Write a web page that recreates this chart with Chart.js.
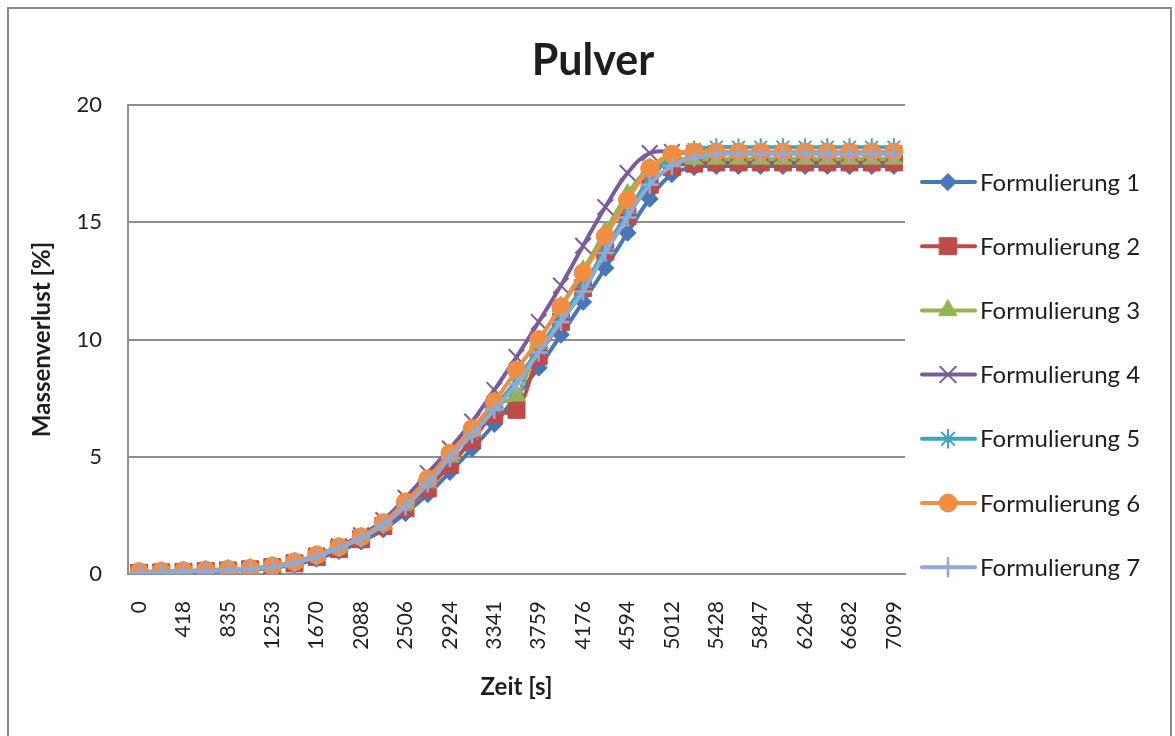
<!DOCTYPE html>
<html>
<head>
<meta charset="utf-8">
<script src="https://cdn.jsdelivr.net/npm/chart.js@4.4.1/dist/chart.umd.min.js"></script>
<style>
  html, body { margin: 0; padding: 0; background: #ffffff; }
  canvas { display: block; }
</style>
</head>
<body>
<canvas id="pulverChart" width="1175" height="736"></canvas>
<script>
// Messzeitpunkte (Sekunden)
const zeitSekunden = [0, 209, 418, 626, 835, 1044, 1253, 1462, 1670, 1879, 2088, 2297, 2506, 2715, 2924, 3133, 3341, 3550, 3759, 3968, 4176, 4385, 4594, 4803, 5012, 5220, 5428, 5637, 5847, 6055, 6264, 6473, 6682, 6890, 7099];

// Massenverlust [%] je Formulierung
const formulierung1 = [0.03, 0.05, 0.07, 0.10, 0.13, 0.18, 0.26, 0.40, 0.65, 0.98, 1.38, 1.90, 2.60, 3.40, 4.35, 5.35, 6.40, 7.60, 8.80, 10.20, 11.60, 13.05, 14.55, 16.00, 17.05, 17.35, 17.40, 17.40, 17.40, 17.40, 17.40, 17.40, 17.40, 17.40, 17.40];
const formulierung2 = [0.05, 0.07, 0.09, 0.12, 0.15, 0.20, 0.29, 0.45, 0.72, 1.06, 1.48, 2.05, 2.80, 3.65, 4.65, 5.70, 6.80, 7.00, 9.30, 10.75, 12.20, 13.75, 15.25, 16.60, 17.35, 17.50, 17.55, 17.55, 17.55, 17.55, 17.55, 17.55, 17.55, 17.55, 17.55];
const formulierung3 = [0.07, 0.09, 0.11, 0.14, 0.18, 0.22, 0.32, 0.49, 0.78, 1.12, 1.55, 2.14, 2.98, 3.90, 5.00, 6.10, 7.20, 7.60, 9.90, 11.40, 12.95, 14.60, 16.20, 17.30, 17.65, 17.70, 17.70, 17.70, 17.70, 17.70, 17.70, 17.70, 17.70, 17.70, 17.70];
const formulierung4 = [0.05, 0.08, 0.10, 0.13, 0.17, 0.22, 0.32, 0.50, 0.80, 1.18, 1.65, 2.30, 3.25, 4.30, 5.35, 6.50, 7.85, 9.25, 10.75, 12.30, 14.00, 15.65, 17.10, 17.95, 18.00, 17.95, 17.95, 17.95, 17.95, 17.95, 17.95, 17.95, 17.95, 17.95, 17.95];
const formulierung5 = [0.06, 0.08, 0.10, 0.13, 0.17, 0.22, 0.31, 0.48, 0.77, 1.12, 1.55, 2.13, 2.92, 3.90, 5.00, 6.00, 7.10, 8.25, 9.60, 10.95, 12.25, 13.85, 15.40, 16.85, 17.75, 18.10, 18.20, 18.20, 18.20, 18.20, 18.20, 18.20, 18.20, 18.20, 18.20];
const formulierung6 = [0.10, 0.12, 0.14, 0.17, 0.20, 0.24, 0.34, 0.52, 0.81, 1.16, 1.59, 2.19, 3.08, 4.05, 5.15, 6.20, 7.35, 8.70, 10.00, 11.40, 12.85, 14.40, 15.95, 17.30, 17.90, 18.00, 18.00, 18.00, 18.00, 18.00, 18.00, 18.00, 18.00, 18.00, 18.00];
const formulierung7 = [0.05, 0.07, 0.10, 0.13, 0.16, 0.21, 0.30, 0.47, 0.75, 1.10, 1.52, 2.10, 2.88, 3.85, 4.95, 5.95, 7.00, 8.10, 9.45, 10.75, 12.05, 13.70, 15.20, 16.60, 17.40, 17.75, 17.90, 17.90, 17.90, 17.90, 17.90, 17.90, 17.90, 17.90, 17.90];

const serienNamen = ['Formulierung 1', 'Formulierung 2', 'Formulierung 3', 'Formulierung 4', 'Formulierung 5', 'Formulierung 6', 'Formulierung 7'];
const yTicks = [0, 5, 10, 15, 20];

const serienWerte = [formulierung1, formulierung2, formulierung3, formulierung4, formulierung5, formulierung6, formulierung7];
const farben = ['#4677B8', '#BE4B48', '#93B553', '#7A5C9E', '#40A6C0', '#F38D3F', '#8FAAD6'];
const punktStile = [
  { style: 'rectRot', radius: 8.5, border: 1 },
  { style: 'rect', radius: 12, border: 1 },
  { style: 'triangle', radius: 10.5, border: 1 },
  { style: 'crossRot', radius: 11, border: 2 },
  { style: 'star', radius: 9, border: 2 },
  { style: 'circle', radius: 9, border: 1 },
  { style: 'cross', radius: 9, border: 2.5 }
];

const TEXT = '#1e1e1e';
const GRID = '#8e8e8e';
const FONT = 'Lato, "Open Sans", sans-serif';

const datasets = serienWerte.map((werte, i) => ({
  label: serienNamen[i],
  data: werte,
  borderColor: farben[i],
  backgroundColor: farben[i],
  borderWidth: 4,
  borderCapStyle: 'round',
  borderJoinStyle: 'round',
  tension: 0.4,
  pointStyle: punktStile[i].style,
  pointRadius: punktStile[i].radius,
  pointBorderWidth: punktStile[i].border,
  pointBackgroundColor: farben[i],
  pointBorderColor: farben[i],
  // later series are painted above earlier ones
  order: serienNamen.length - i
}));

// Outer frame, title and the line+marker legend
const rahmenUndLegende = {
  id: 'rahmenUndLegende',
  beforeDraw(chart) {
    const ctx = chart.ctx;
    ctx.save();
    ctx.fillStyle = '#ffffff';
    ctx.fillRect(0, 0, chart.width, chart.height);
    ctx.restore();
  },
  afterDraw(chart) {
    const ctx = chart.ctx;
    ctx.save();
    // frame
    ctx.strokeStyle = '#8a8a8a';
    ctx.lineWidth = 2;
    ctx.strokeRect(8, 8, 1163, 740);

    // title
    ctx.fillStyle = TEXT;
    ctx.font = 'bold 43px ' + FONT;
    ctx.textAlign = 'center';
    ctx.textBaseline = 'alphabetic';
    ctx.fillText('Pulver', 593, 75);

    // legend
    chart.data.datasets.forEach((ds, i) => {
      const y = 182 + i * 64.2;
      ctx.strokeStyle = ds.borderColor;
      ctx.lineWidth = 4;
      ctx.lineCap = 'round';
      ctx.beginPath();
      ctx.moveTo(922, y);
      ctx.lineTo(975, y);
      ctx.stroke();
      ctx.fillStyle = ds.pointBackgroundColor;
      ctx.strokeStyle = ds.pointBorderColor;
      ctx.lineWidth = ds.pointBorderWidth;
      Chart.helpers.drawPoint(ctx, {
        pointStyle: ds.pointStyle,
        rotation: 0,
        radius: ds.pointRadius,
        borderWidth: ds.pointBorderWidth
      }, 948, y);
      ctx.fillStyle = TEXT;
      ctx.font = '24px ' + FONT;
      ctx.textAlign = 'left';
      ctx.textBaseline = 'alphabetic';
      ctx.fillText(ds.label, 980, y + 8.5);
    });
    ctx.restore();
  }
};

new Chart(document.getElementById('pulverChart'), {
  type: 'line',
  data: { labels: zeitSekunden, datasets },
  plugins: [rahmenUndLegende],
  options: {
    responsive: false,
    animation: false,
    devicePixelRatio: 1,
    layout: { padding: { left: 8, top: 105, right: 270, bottom: 0 } },
    plugins: {
      legend: { display: false },
      title: { display: false },
      tooltip: { enabled: false }
    },
    scales: {
      x: {
        type: 'category',
        offset: true,
        grid: { display: false, drawTicks: false },
        border: { display: true, color: GRID, width: 2 },
        ticks: {
          autoSkip: false,
          maxRotation: 90,
          minRotation: 90,
          padding: 27,
          color: TEXT,
          font: { family: FONT, size: 21 },
          callback: (value, index) => (index % 2 === 0 ? String(zeitSekunden[index]) : '')
        },
        title: {
          display: true,
          text: 'Zeit [s]',
          color: TEXT,
          font: { family: FONT, size: 24, weight: 'bold' },
          padding: { top: 0, bottom: 34 }
        },
        afterFit: (scale) => { scale.height = 162; }
      },
      y: {
        min: 0,
        max: 20,
        afterBuildTicks: (scale) => { scale.ticks = yTicks.map(v => ({ value: v })); },
        grid: { color: GRID, lineWidth: 2, drawTicks: false },
        border: { display: true, color: GRID, width: 2 },
        ticks: {
          padding: 26,
          color: TEXT,
          font: { family: FONT, size: 22 }
        },
        title: {
          display: true,
          text: 'Massenverlust [%]',
          color: TEXT,
          font: { family: FONT, size: 24, weight: 'bold' },
          padding: { top: 20, bottom: 0 }
        },
        afterFit: (scale) => { scale.width = 120; }
      }
    }
  }
});
</script>
</body>
</html>
